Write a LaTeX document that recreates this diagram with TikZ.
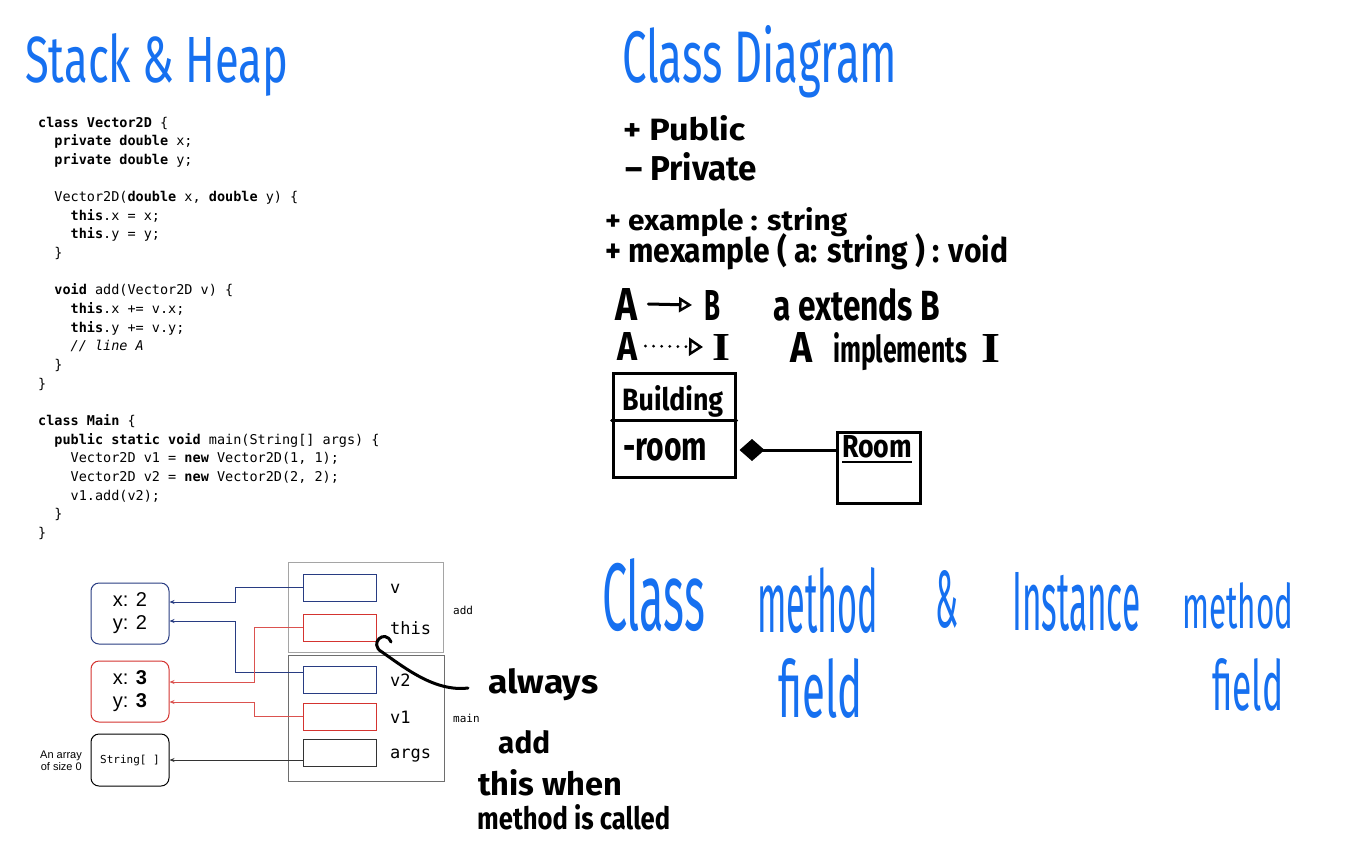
\documentclass[tikz,border=0pt]{standalone}
\usepackage{fontspec}
\usepackage{graphicx}
\setmainfont{Liberation Sans}
\setmonofont{DejaVu Sans Mono}
\newfontfamily\handfont{Fira Sans}
\newfontfamily\serifhand{Liberation Serif}
\usetikzlibrary{arrows.meta,positioning}

\definecolor{penblue}{RGB}{22,112,240}
\definecolor{refblue}{RGB}{40,60,130}
\definecolor{refred}{RGB}{212,52,48}
\definecolor{framegray}{RGB}{165,165,165}
\definecolor{framedark}{RGB}{110,110,110}

% handwriting fitted to a box: width, height above baseline, text
\newcommand{\hw}[3]{\resizebox{#1pt}{#2pt}{\handfont #3}}

\tikzset{
  code/.style={anchor=base west, inner sep=0, font=\ttfamily\fontsize{13.5}{16}\selectfont},
  blue hand/.style={anchor=base west, inner sep=0, text=penblue},
  black hand/.style={anchor=base west, inner sep=0, font=\bfseries},
  slot/.style={draw, minimum width=73pt, minimum height=27pt, inner sep=0, line width=1pt},
  frame/.style={draw=framegray, line width=1pt, inner sep=0},
  heapobj/.style={draw, rounded corners=8pt, minimum width=78pt, line width=1pt, align=center,
    font=\fontsize{20}{23}\selectfont},
  slotlabel/.style={anchor=base west, inner sep=0, font=\ttfamily\fontsize{17}{17}\selectfont},
  framelabel/.style={anchor=west, inner sep=0, font=\ttfamily\fontsize{11}{11}\selectfont},
  ref/.style={line width=0.8pt, -{Stealth[length=5pt,width=4pt]}},
  umlbox/.style={draw, line width=3pt, inner sep=0},
  pen/.style={line width=3pt, line cap=round, line join=round},
}

\begin{document}
\begin{tikzpicture}[x=1pt, y=-1pt]
\fill[white] (0,0) rectangle (1364,852);
\useasboundingbox (0,0) rectangle (1364,852);

% Stack & Heap: code
\node[blue hand] (stackhead) at (25,82) {\hw{263}{49}{Stack \& Heap}};
\foreach \n/\txt in {
  0/{\textbf{class Vector2D} \{},
  1/{\phantom{xx}\textbf{private double} x;},
  2/{\phantom{xx}\textbf{private double} y;},
  4/{\phantom{xx}Vector2D(\textbf{double} x, \textbf{double} y) \{},
  5/{\phantom{xxxx}\textbf{this}.x = x;},
  6/{\phantom{xxxx}\textbf{this}.y = y;},
  7/{\phantom{xx}\}},
  9/{\phantom{xx}\textbf{void} add(Vector2D v) \{},
  10/{\phantom{xxxx}\textbf{this}.x += v.x;},
  11/{\phantom{xxxx}\textbf{this}.y += v.y;},
  12/{\phantom{xxxx}\textit{// line A}},
  13/{\phantom{xx}\}},
  14/{\}},
  16/{\textbf{class Main} \{},
  17/{\phantom{xx}\textbf{public static void} main(String[] args) \{},
  18/{\phantom{xxxx}Vector2D v1 = \textbf{new} Vector2D(1, 1);},
  19/{\phantom{xxxx}Vector2D v2 = \textbf{new} Vector2D(2, 2);},
  20/{\phantom{xxxx}v1.add(v2);},
  21/{\phantom{xx}\}},
  22/{\}}}
  \node[code] (code\n) at (38,{127+18.65*\n}) {\txt};

% stack frames
\node[frame, minimum width=155pt, minimum height=90pt] (addframe) at (365.5,607) {};
\node[frame, draw=framedark, minimum width=156pt, minimum height=126pt] (mainframe) at (366,718) {};
\node[slot, draw=refblue] (vslot) at (339.5,587.5) {};
\node[slot, draw=refred] (thisslot) at (339.5,627.5) {};
\node[slot, draw=refblue] (vtwoslot) at (339.5,679.5) {};
\node[slot, draw=refred] (voneslot) at (339.5,716.5) {};
\node[slot, draw=black!80] (argsslot) at (339.5,752.5) {};
\node[slotlabel] (vlabel) at (390,593) {v};
\node[slotlabel] (thislabel) at (390,634) {this};
\node[slotlabel] (vtwolabel) at (390,686) {v2};
\node[slotlabel] (vonelabel) at (390,723) {v1};
\node[slotlabel] (argslabel) at (390,758) {args};
\node[framelabel] (addlabel) at (453,610) {add};
\node[framelabel] (mainlabel) at (453,718) {main};

% heap
\node[heapobj, draw=refblue, minimum height=61pt] (objone) at (130,613.5) {x: 2\\y: 2};
\node[heapobj, draw=refred, minimum height=61pt] (objtwo) at (130,691.5) {x: \textbf{3}\\y: \textbf{3}};
\node[heapobj, minimum height=52pt, font=\ttfamily\fontsize{11}{11}\selectfont] (objthree) at (130,760) {String[ ]};
\node[anchor=east, align=right, inner sep=0, font=\fontsize{11}{12}\selectfont] (arraynote) at (82,761) {An array\\of size 0};

\draw[ref, refblue] (vslot.west) -- ++(-67,0) |- ([yshift=11.5pt]objone.east);
\draw[ref, refblue] ([yshift=7.5pt]vtwoslot.west) -- ++(-67,0) |- ([yshift=-7.5pt]objone.east);
\draw[ref, refred!85] (thisslot.west) -- ++(-48,0) |- ([yshift=9.5pt]objtwo.east);
\draw[ref, refred!85] (voneslot.west) -- ++(-48,0) |- ([yshift=-10.5pt]objtwo.east);
\draw[ref, black!80] ([yshift=-7.5pt]argsslot.west) -- (objthree.east);

% note on this
\coordinate (hookstart) at (391,642);
\coordinate (hookend) at (468,688);
\draw[pen] (hookstart) .. controls (385,628) and (368,644) .. (382,652)
  .. controls (405,668) and (435,692) .. (hookend);
\node[black hand] (always) at (488,693) {\hw{110}{25}{always}};
\node[black hand] (addnote) at (498,753) {\hw{52}{23}{add}};
\node[black hand] (thiswhen) at (478,795) {\hw{144}{26}{this when}};
\node[black hand] (methodcalled) at (477,829) {\hw{193}{25}{method is called}};

% Class Diagram
\node[blue hand] (classhead) at (622,82) {\hw{275}{57}{Class Diagram}};
\node[black hand] (public) at (623,140) {\hw{122}{25}{+ Public}};
\node[black hand] (private) at (625,180) {\hw{132}{28}{– Private}};
\node[black hand] (attr) at (605,230) {\hw{242}{23}{+ example : string}};
\node[black hand] (meth) at (605,262) {\hw{403}{29}{+ mexample ( a: string ) : void}};

\node[black hand] (extA) at (615,320) {\hw{22}{32}{A}};
\node[black hand] (extB) at (704,320) {\hw{16}{30}{B}};
\draw[pen, -{Triangle[open, length=13pt, width=15pt, line width=2.5pt]}]
  ([xshift=11pt]extA.east) -- ([xshift=-12pt]extB.west);
\node[black hand] (extText) at (773,320) {\hw{167}{32}{a extends B}};

\node[black hand] (implA) at (617,360) {\hw{20}{28}{A}};
\node[black hand] (implI) at (712,360) {\resizebox{18pt}{26pt}{\serifhand I}};
\draw[pen, dash pattern=on 0.1pt off 8pt, -{Triangle[open, length=14pt, width=18pt, line width=2.5pt]}]
  ([xshift=8pt]implA.east) -- ([xshift=-9pt]implI.west);
\node[black hand] (implTextA) at (790,362) {\hw{22}{30}{A}};
\node[black hand] (implTextWord) at (833,362) {\hw{134}{30}{implements}};
\node[black hand] (implTextI) at (981,362) {\resizebox{19pt}{28pt}{\serifhand I}};

\node[umlbox, minimum width=122pt, minimum height=104pt] (bldg) at (674,425) {};
\draw[pen] (bldg.west |- 0,420) -- (bldg.east |- 0,420);
\node[black hand] (bldgname) at (622,410) {\hw{101}{25}{Building}};
\node[black hand] (bldgattr) at (623,460) {\hw{84}{22}{-room}};
\node[umlbox, minimum width=83pt, minimum height=71pt] (room) at (878.5,467.5) {};
\node[black hand] (roomname) at (842,457) {\hw{70}{22}{\underline{Room}}};
\coordinate (compstart) at ([yshift=-25pt,xshift=3pt]bldg.east);
\draw[pen, {Diamond[length=25pt, width=22pt]}-] (compstart) -- (compstart -| room.west);

% Class method & Instance method
\node[blue hand] (cmclass) at (602,630) {\hw{103}{72}{Class}};
\node[blue hand] (cmmethod) at (757,632) {\hw{121}{65}{method}};
\node[blue hand] (cmamp) at (935,627) {\hw{23}{57}{\&}};
\node[blue hand] (iminst) at (1012,630) {\hw{128}{58}{Instance}};
\node[blue hand] (immethod) at (1182,628) {\hw{111}{46}{method}};
\node[blue hand] (cmfield) at (778,717) {\hw{84}{59}{field}};
\node[blue hand] (imfield) at (1212,710) {\hw{71}{52}{field}};

\end{tikzpicture}
\end{document}
